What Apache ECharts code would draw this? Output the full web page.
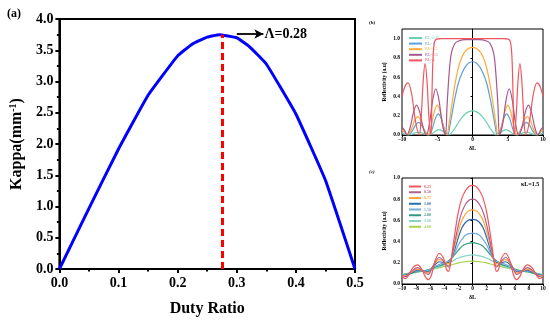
<!DOCTYPE html>
<html><head><meta charset="utf-8">
<script src="https://cdn.jsdelivr.net/npm/echarts@6/dist/echarts.min.js"></script>
<style>html,body{margin:0;padding:0;background:#fff}#c{width:550px;height:322px}</style>
</head><body><div id="c"></div>
<script>
// Panel (a): duty ratio vs kappa
const dutyRatio = [0, 0.05, 0.10, 0.15, 0.20, 0.225, 0.25, 0.27, 0.30, 0.32, 0.35, 0.40, 0.45, 0.50];
const kappa     = [0, 0.97, 1.92, 2.78, 3.41, 3.60, 3.71, 3.75, 3.70, 3.57, 3.28, 2.48, 1.42, 0];
const optimumDuty = 0.275, optimumKappa = 3.75;

// Panel (b): reflectivity vs deltaL for several kL  ([deltaL, R])
const bNames = ['KL=0.25', 'KL=1', 'KL=1.5', 'KL=2.5', 'KL=4'];
const bColors = ['#6ccfb3', '#5d9fd8', '#ffa93a', '#a6578e', '#f2555c'];
const bTeal = [[-10,0.02],[-9.6,0.01],[-9.1,0],[-8.62,0.008],[-8.13,0.022],[-7.65,0.03],[-7.17,0.022],[-6.68,0.008],[-6.2,0],[-5.72,0.014],[-5.23,0.041],[-4.75,0.055],[-4.27,0.041],[-3.78,0.014],[-3.3,0],[-3,0.02],[-2.5,0.07],[-2,0.13],[-1.5,0.18],[-1,0.22],[-0.5,0.243],[0,0.25],[0.5,0.243],[1,0.22],[1.5,0.18],[2,0.13],[2.5,0.07],[3,0.02],[3.3,0],[3.78,0.014],[4.27,0.041],[4.75,0.055],[5.23,0.041],[5.72,0.014],[6.2,0],[6.68,0.008],[7.17,0.022],[7.65,0.03],[8.13,0.022],[8.62,0.008],[9.1,0],[9.6,0.01],[10,0.02]];
const bBlue = [[-10,0.05],[-9.6,0.03],[-9.1,0],[-8.62,0.033],[-8.13,0.098],[-7.65,0.13],[-7.17,0.098],[-6.68,0.033],[-6.2,0],[-5.75,0.055],[-5.3,0.165],[-4.85,0.22],[-4.4,0.165],[-3.95,0.055],[-3.5,0],[-3.25,0.08],[-3,0.18],[-2.5,0.38],[-2,0.54],[-1.5,0.64],[-1,0.71],[-0.5,0.75],[0,0.76],[0.5,0.75],[1,0.71],[1.5,0.64],[2,0.54],[2.5,0.38],[3,0.18],[3.25,0.08],[3.5,0],[3.95,0.055],[4.4,0.165],[4.85,0.22],[5.3,0.165],[5.75,0.055],[6.2,0],[6.68,0.033],[7.17,0.098],[7.65,0.13],[8.13,0.098],[8.62,0.033],[9.1,0],[9.6,0.03],[10,0.05]];
const bOrange = [[-10,0.05],[-9.6,0.03],[-9.2,0],[-8.73,0.048],[-8.25,0.143],[-7.78,0.19],[-7.3,0.143],[-6.83,0.048],[-6.35,0],[-5.9,0.078],[-5.45,0.233],[-5.0,0.31],[-4.55,0.233],[-4.1,0.078],[-3.65,0],[-3.3,0.13],[-3,0.28],[-2.5,0.52],[-2,0.70],[-1.5,0.81],[-1,0.87],[-0.5,0.90],[0,0.91],[0.5,0.90],[1,0.87],[1.5,0.81],[2,0.70],[2.5,0.52],[3,0.28],[3.3,0.13],[3.65,0],[4.1,0.078],[4.55,0.233],[5.0,0.31],[5.45,0.233],[5.9,0.078],[6.35,0],[6.83,0.048],[7.3,0.143],[7.78,0.19],[8.25,0.143],[8.73,0.048],[9.2,0],[9.6,0.03],[10,0.05]];
const bPurple = [[-10,0.08],[-9.65,0.05],[-9.3,0],[-8.84,0.078],[-8.38,0.233],[-7.93,0.31],[-7.47,0.233],[-7.01,0.078],[-6.55,0],[-6.1,0.12],[-5.65,0.36],[-5.2,0.48],[-4.75,0.36],[-4.3,0.12],[-3.85,0],[-3.6,0.32],[-3.3,0.65],[-3,0.85],[-2.5,0.95],[-2,0.975],[-1,0.99],[0,0.99],[1,0.99],[2,0.975],[2.5,0.95],[3,0.85],[3.3,0.65],[3.6,0.32],[3.85,0],[4.3,0.12],[4.75,0.36],[5.2,0.48],[5.65,0.36],[6.1,0.12],[6.55,0],[7.01,0.078],[7.47,0.233],[7.93,0.31],[8.38,0.233],[8.84,0.078],[9.3,0],[9.65,0.05],[10,0.08]];
const bRed = [[-10,0.40],[-9.6,0.50],[-9.15,0.54],[-8.62,0.42],[-8.08,0.14],[-7.55,0],[-7.28,0.185],[-7.0,0.555],[-6.73,0.74],[-6.45,0.555],[-6.18,0.185],[-5.9,0],[-5.75,0.42],[-5.6,0.80],[-5.4,0.96],[-5.1,0.995],[-4.5,1],[0,1],[4.5,1],[5.1,0.995],[5.4,0.96],[5.6,0.80],[5.75,0.42],[5.9,0],[6.18,0.185],[6.45,0.555],[6.73,0.74],[7.0,0.555],[7.28,0.185],[7.55,0],[8.08,0.14],[8.62,0.42],[9.15,0.54],[9.6,0.50],[10,0.40]];

// Panel (c): reflectivity vs deltaL, kL = 1.5
const cNames = ['0.25', '0.50', '0.75', '1.00', '1.50', '2.00', '3.00', '4.00'];
const cColors = ['#f2555c', '#b0618f', '#ffa93a', '#2b6cb3', '#74acde', '#2f9a7c', '#86d6c3', '#a9d14b'];
const c025 = [[-10,0.07],[-9.5,0.05],[-9,0.09],[-8.5,0.15],[-7.8,0.18],[-7.2,0.14],[-6.7,0.07],[-6.25,0.04],[-5.8,0.09],[-5.3,0.22],[-4.7,0.29],[-4.1,0.24],[-3.7,0.14],[-3.4,0.12],[-3.1,0.2],[-2.8,0.34],[-2.5,0.48],[-2,0.68],[-1.5,0.81],[-1,0.88],[-0.5,0.92],[0,0.93],[0.5,0.92],[1,0.88],[1.5,0.81],[2,0.68],[2.5,0.48],[2.8,0.34],[3.1,0.2],[3.4,0.12],[3.7,0.14],[4.1,0.24],[4.7,0.29],[5.3,0.22],[5.8,0.09],[6.25,0.04],[6.7,0.07],[7.2,0.14],[7.8,0.18],[8.5,0.15],[9,0.09],[9.5,0.05],[10,0.07]];
const c050 = [[-10,0.08],[-9.5,0.07],[-8.8,0.11],[-7.8,0.155],[-7.0,0.12],[-6.3,0.09],[-5.6,0.17],[-4.7,0.25],[-3.9,0.2],[-3.4,0.16],[-3.0,0.24],[-2.5,0.40],[-2,0.56],[-1.5,0.68],[-1,0.75],[-0.5,0.79],[0,0.80],[0.5,0.79],[1,0.75],[1.5,0.68],[2,0.56],[2.5,0.40],[3.0,0.24],[3.4,0.16],[3.9,0.2],[4.7,0.25],[5.6,0.17],[6.3,0.09],[7.0,0.12],[7.8,0.155],[8.8,0.11],[9.5,0.07],[10,0.08]];
const c075 = [[-10,0.08],[-9.3,0.08],[-8.7,0.11],[-7.8,0.14],[-7,0.12],[-6.3,0.105],[-5.5,0.18],[-4.7,0.23],[-4.0,0.21],[-3.4,0.19],[-3,0.24],[-2.5,0.37],[-2,0.50],[-1.5,0.60],[-1,0.66],[-0.5,0.69],[0,0.70],[0.5,0.69],[1,0.66],[1.5,0.60],[2,0.50],[2.5,0.37],[3,0.24],[3.4,0.19],[4.0,0.21],[4.7,0.23],[5.5,0.18],[6.3,0.105],[7,0.12],[7.8,0.14],[8.7,0.11],[9.3,0.08],[10,0.08]];
const c100 = [[-10,0.08],[-9,0.09],[-7.8,0.13],[-6.3,0.115],[-5.5,0.17],[-4.7,0.21],[-3.9,0.2],[-3.4,0.2],[-3,0.24],[-2.5,0.33],[-2,0.44],[-1.5,0.53],[-1,0.58],[-0.5,0.605],[0,0.61],[0.5,0.605],[1,0.58],[1.5,0.53],[2,0.44],[2.5,0.33],[3,0.24],[3.4,0.2],[3.9,0.2],[4.7,0.21],[5.5,0.17],[6.3,0.115],[7.8,0.13],[9,0.09],[10,0.08]];
const c150 = [[-10,0.085],[-8,0.12],[-6.5,0.125],[-5.5,0.16],[-4.5,0.19],[-3.5,0.21],[-3,0.24],[-2.5,0.30],[-2,0.37],[-1.5,0.42],[-1,0.46],[-0.5,0.475],[0,0.48],[0.5,0.475],[1,0.46],[1.5,0.42],[2,0.37],[2.5,0.30],[3,0.24],[3.5,0.21],[4.5,0.19],[5.5,0.16],[6.5,0.125],[8,0.12],[10,0.085]];
const c200 = [[-10,0.085],[-8,0.115],[-6.5,0.13],[-5,0.165],[-4,0.19],[-3,0.24],[-2.5,0.28],[-2,0.32],[-1.5,0.355],[-1,0.375],[0,0.39],[1,0.375],[1.5,0.355],[2,0.32],[2.5,0.28],[3,0.24],[4,0.19],[5,0.165],[6.5,0.13],[8,0.115],[10,0.085]];
const c300 = [[-10,0.085],[-8,0.11],[-6,0.135],[-5,0.155],[-4,0.18],[-3,0.21],[-2,0.245],[-1,0.265],[0,0.275],[1,0.265],[2,0.245],[3,0.21],[4,0.18],[5,0.155],[6,0.135],[8,0.11],[10,0.085]];
const c400 = [[-10,0.09],[-8,0.11],[-6,0.135],[-5,0.15],[-4,0.165],[-3,0.18],[-2,0.2],[-1,0.21],[0,0.215],[1,0.21],[2,0.2],[3,0.18],[4,0.165],[5,0.15],[6,0.135],[8,0.11],[10,0.09]];

const bData = [bTeal, bBlue, bOrange, bPurple, bRed];
const cData = [c025, c050, c075, c100, c150, c200, c300, c400];

const SERIF = '"Liberation Serif", "Times New Roman", serif';
const chart = echarts.init(document.getElementById('c'), null, {renderer: 'canvas'});

function smallAxisLabel(fmt) {
  return {fontFamily: SERIF, fontWeight: 'bold', fontSize: 5.5, color: '#000', margin: 2, formatter: fmt};
}

const series = [];
series.push({
  type: 'line', xAxisIndex: 0, yAxisIndex: 0, data: dutyRatio.map((d, i) => [d, kappa[i]]),
  symbol: 'none', smooth: 0.1, lineStyle: {color: '#0000ff', width: 3}, z: 3,
  markLine: {
    silent: true, symbol: ['none', 'none'], animation: false,
    data: [
      [{coord: [optimumDuty, 0], lineStyle: {color: '#ff0000', width: 3, type: [7, 4]}},
       {coord: [optimumDuty, optimumKappa]}],
      [{coord: [0.30, 3.76], symbol: 'none', lineStyle: {color: '#000', width: 1.8, type: 'solid'}},
       {coord: [0.345, 3.76], symbol: 'arrow', symbolSize: [7, 9]}]
    ],
    label: {show: false}
  },
  markPoint: {
    silent: true, symbol: 'circle', symbolSize: 0, animation: false,
    data: [{coord: [0.347, 3.76], label: {show: true, position: 'right', distance: 0, formatter: 'Λ=0.28',
      fontFamily: SERIF, fontWeight: 'bold', fontSize: 14, color: '#000'}}]
  }
});
bData.forEach((d, i) => series.push({
  name: bNames[i], type: 'line', xAxisIndex: 1, yAxisIndex: 1, data: d, symbol: 'none',
  smooth: 0.35, lineStyle: {color: bColors[i], width: 1.2}, itemStyle: {color: bColors[i]}, z: 2 + i
}));
cData.forEach((d, i) => series.push({
  name: cNames[i], type: 'line', xAxisIndex: 2, yAxisIndex: 2, data: d, symbol: 'none',
  smooth: 0.35, lineStyle: {color: cColors[i], width: 1.2}, itemStyle: {color: cColors[i]}, z: 10 - i
}));

const option = {
  animation: false,
  backgroundColor: '#fff',
  grid: [
    {left: 52, top: 19, width: 303, height: 253, show: true, borderColor: '#000', borderWidth: 2, backgroundColor: 'transparent'},
    {left: 402, top: 29, width: 141, height: 106, show: true, borderColor: '#000', borderWidth: 1},
    {left: 402, top: 178, width: 141, height: 106, show: true, borderColor: '#000', borderWidth: 1}
  ],
  xAxis: [
    {type: 'value', gridIndex: 0, min: 0, max: 0.5, interval: 0.1,
     name: 'Duty Ratio', nameLocation: 'middle', nameGap: 32,
     nameTextStyle: {fontFamily: SERIF, fontWeight: 'bold', fontSize: 16, color: '#000'},
     axisLine: {lineStyle: {color: '#000', width: 2}}, axisTick: {length: 4, lineStyle: {width: 2, color: '#000'}},
     minorTick: {show: true, splitNumber: 2, length: 2.5, lineStyle: {width: 2, color: '#000'}},
     splitLine: {show: false},
     axisLabel: {fontFamily: SERIF, fontWeight: 'bold', fontSize: 14, color: '#000', margin: 7, formatter: v => v.toFixed(1)}},
    {type: 'value', gridIndex: 1, min: -10, max: 10, interval: 5,
     name: 'δL', nameLocation: 'middle', nameGap: 10,
     nameTextStyle: {fontFamily: SERIF, fontWeight: 'bold', fontSize: 6, color: '#000'},
     axisLine: {lineStyle: {color: '#000', width: 1}}, axisTick: {length: 2, lineStyle: {color: '#000'}},
     splitLine: {show: false}, axisLabel: smallAxisLabel(v => v < 0 ? '−' + (-v) : String(v))},
    {type: 'value', gridIndex: 2, min: -10, max: 10, interval: 2,
     name: 'δL', nameLocation: 'middle', nameGap: 10,
     nameTextStyle: {fontFamily: SERIF, fontWeight: 'bold', fontSize: 6, color: '#000'},
     axisLine: {lineStyle: {color: '#000', width: 1}}, axisTick: {length: 2, lineStyle: {color: '#000'}},
     minorTick: {show: true, splitNumber: 2, length: 1, lineStyle: {color: '#000'}},
     splitLine: {show: false}, axisLabel: smallAxisLabel(v => v < 0 ? '−' + (-v) : String(v))}
  ],
  yAxis: [
    {type: 'value', gridIndex: 0, min: 0, max: 4, interval: 0.5,
     name: '{n|Kappa(mm}{s|-1}{n|)}', nameLocation: 'middle', nameGap: 31,
     nameTextStyle: {rich: {
       n: {fontFamily: SERIF, fontWeight: 'bold', fontSize: 16, color: '#000'},
       s: {fontFamily: SERIF, fontWeight: 'bold', fontSize: 10, color: '#000', verticalAlign: 'top', padding: [0, 0, 8, 0]}}},
     axisLine: {lineStyle: {color: '#000', width: 2}}, axisTick: {length: 4, lineStyle: {width: 2, color: '#000'}},
     minorTick: {show: true, splitNumber: 2, length: 2.5, lineStyle: {width: 2, color: '#000'}},
     splitLine: {show: false},
     axisLabel: {fontFamily: SERIF, fontWeight: 'bold', fontSize: 14, color: '#000', margin: 6, formatter: v => v.toFixed(1)}},
    {type: 'value', gridIndex: 1, min: 0, max: 1.1, interval: 0.2,
     name: 'Reflectivity (a.u)', nameLocation: 'middle', nameGap: 14,
     nameTextStyle: {fontFamily: SERIF, fontWeight: 'bold', fontSize: 5.5, color: '#000'},
     axisLine: {lineStyle: {color: '#000', width: 1}}, axisTick: {length: 2, lineStyle: {color: '#000'}},
     splitLine: {show: false}, axisLabel: Object.assign(smallAxisLabel(v => v.toFixed(1)), {showMaxLabel: false})},
    {type: 'value', gridIndex: 2, min: 0, max: 1.0, interval: 0.2,
     name: 'Reflectivity (a.u)', nameLocation: 'middle', nameGap: 14,
     nameTextStyle: {fontFamily: SERIF, fontWeight: 'bold', fontSize: 5.5, color: '#000'},
     axisLine: {lineStyle: {color: '#000', width: 1}}, axisTick: {length: 2, lineStyle: {color: '#000'}},
     splitLine: {show: false}, axisLabel: smallAxisLabel(v => v.toFixed(1))}
  ],
  legend: [
    {data: bNames.map((n, i) => ({name: n, textStyle: {color: bColors[i]}})),
     orient: 'vertical', left: 404, top: 31, itemWidth: 13, itemHeight: 2, itemGap: 1.6,
     icon: 'rect', selectedMode: false,
     textStyle: {fontFamily: SERIF, fontSize: 4, padding: [0, 0, 0, -2]}},
    {data: cNames.map((n, i) => ({name: n, textStyle: {color: cColors[i]}})),
     orient: 'vertical', left: 404, top: 179.5, itemWidth: 12, itemHeight: 2, itemGap: 1.75,
     icon: 'rect', selectedMode: false,
     textStyle: {fontFamily: SERIF, fontSize: 4, fontWeight: 'bold', padding: [0, 0, 0, -2]}}
  ],
  graphic: [
    {type: 'text', left: 7, top: 8, style: {text: '(a)', font: 'bold 12px ' + SERIF, fill: '#000'}},
    {type: 'text', left: 369, top: 20, style: {text: '(b)', font: 'bold 5px ' + SERIF, fill: '#000'}},
    {type: 'text', left: 369, top: 169, style: {text: '(c)', font: 'italic bold 5px ' + SERIF, fill: '#000'}},
    {type: 'text', left: 521, top: 181, style: {text: 'κL=1.5', font: 'bold 6px ' + SERIF, fill: '#000'}}
  ],
  series: series
};
chart.setOption(option);
</script></body></html>
